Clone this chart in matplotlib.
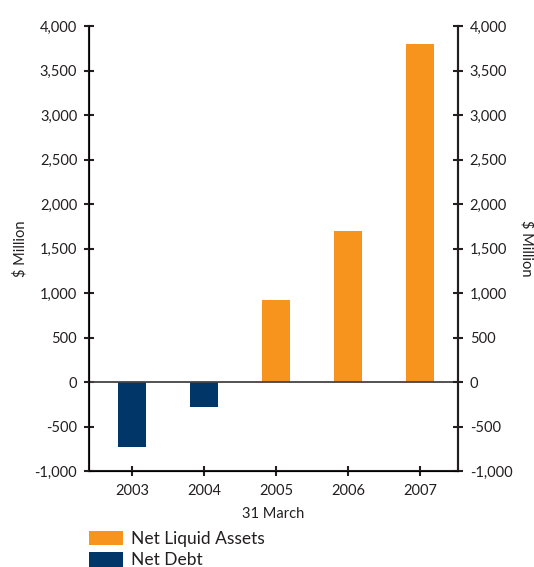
import matplotlib
matplotlib.use("Agg")
import matplotlib.pyplot as plt
from matplotlib.ticker import FuncFormatter

plt.rcParams['font.family'] = ['Lato', 'DejaVu Sans']

# balance at 31 March, $ million
years = ['2003', '2004', '2005', '2006', '2007']
net_liquid_assets = [0, 0, 920, 1700, 3800]
net_debt = [-730, -280, 0, 0, 0]

orange = '#F7941D'
navy = '#003768'
ink = '#231F20'

fig = plt.figure(figsize=(5.34, 5.67), dpi=100)
ax = fig.add_axes([0.1667, 0.1693, 0.691, 0.7848])

x = list(range(len(years)))
ax.bar(x, net_liquid_assets, width=0.39, color=orange, label='Net Liquid Assets')
ax.bar(x, net_debt, width=0.39, color=navy, label='Net Debt')
ax.axhline(0, color='#444444', lw=1.3, zorder=3)

ax.set_xlim(-0.6, 4.53)
ax.set_ylim(-1000, 4000)
ax.set_yticks(range(-1000, 4001, 500))
fmt = FuncFormatter(lambda v, p: f'{int(v):,}')
ax.yaxis.set_major_formatter(fmt)
ax.set_xticks(x)
ax.set_xticklabels(years)

ax.spines['top'].set_visible(False)
for s in ['left', 'right', 'bottom']:
    ax.spines[s].set_color(ink)
    ax.spines[s].set_linewidth(1.5)

ax.tick_params(axis='both', direction='inout', length=7, width=1.5,
               color=ink, labelcolor=ink, labelsize=10.5)
ax.tick_params(axis='y', pad=5)
ax.tick_params(axis='x', pad=6)
ax.set_xlabel('31 March', fontsize=10.5, color=ink, labelpad=6)
ax.set_ylabel('$ Million', fontsize=10.5, color=ink, va='center')
ax.yaxis.set_label_coords(-0.187, 0.5)

ax2 = ax.twinx()
ax2.set_ylim(ax.get_ylim())
ax2.set_yticks(range(-1000, 4001, 500))
ax2.yaxis.set_major_formatter(fmt)
ax2.spines['top'].set_visible(False)
ax2.spines['right'].set_color(ink)
ax2.spines['right'].set_linewidth(1.5)
ax2.tick_params(axis='y', direction='inout', length=7, width=1.5,
                color=ink, labelcolor=ink, labelsize=10.5, pad=5)
ax2.set_ylabel('$ Million', fontsize=10.5, color=ink, rotation=270, va='center')
ax2.yaxis.set_label_coords(1.187, 0.5)

handles, labels = ax.get_legend_handles_labels()
fig.legend(handles, labels, loc='upper left', bbox_to_anchor=(0.166, 0.064),
           frameon=False, fontsize=12.5, handlelength=2.0, handleheight=0.9,
           labelspacing=0.3, handletextpad=0.45, borderaxespad=0, borderpad=0,
           labelcolor=ink)

fig.savefig('out.png', dpi=100)
